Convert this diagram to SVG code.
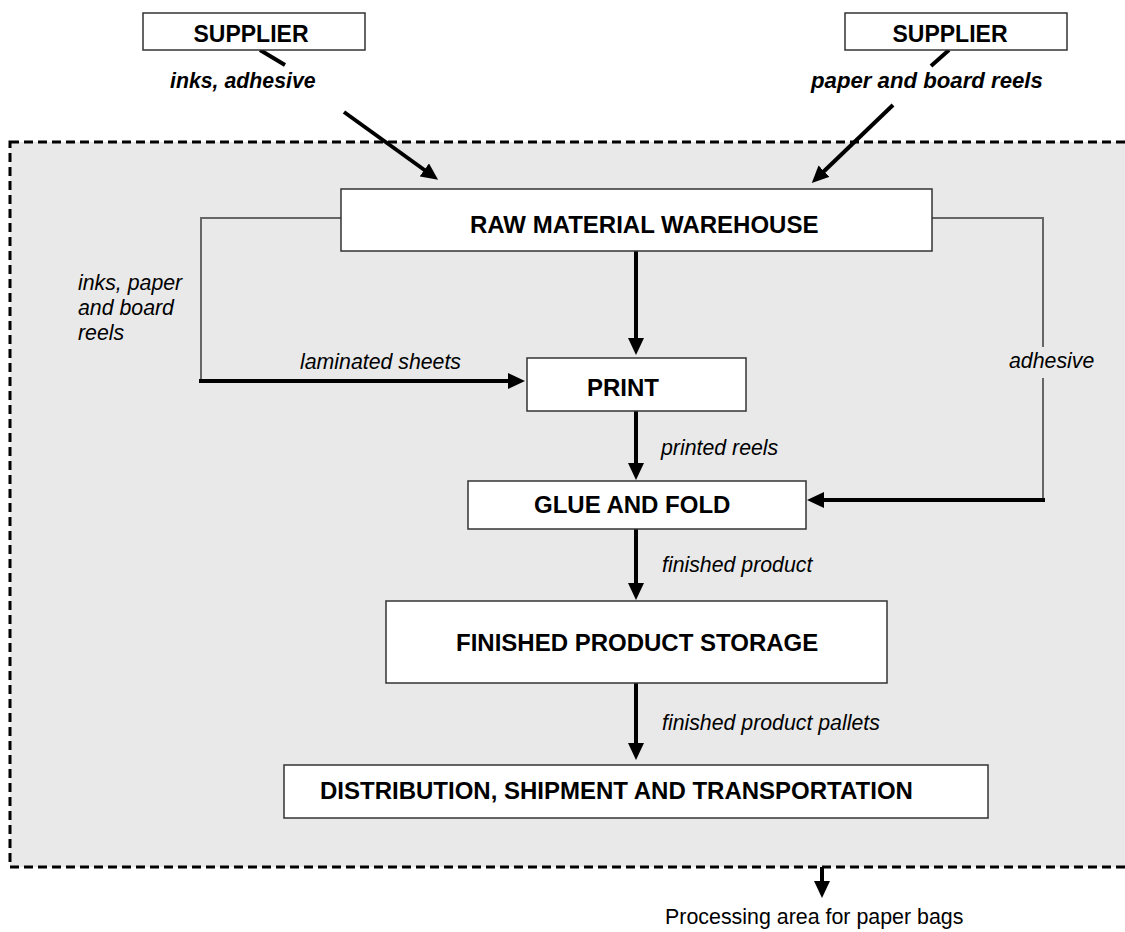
<svg xmlns="http://www.w3.org/2000/svg" width="1125" height="932" viewBox="0 0 1125 932">
  <style>
    .box { fill: #ffffff; stroke: #333333; stroke-width: 1.5; }
    .node-label { font-family: "Liberation Sans", Arial, sans-serif; font-weight: bold; font-size: 24px; fill: #000; }
    .supplier-label { font-family: "Liberation Sans", Arial, sans-serif; font-weight: bold; font-size: 23px; fill: #000; }
    .supply-label { font-family: "Liberation Sans", Arial, sans-serif; font-weight: bold; font-style: italic; font-size: 21.3px; fill: #000; }
    .flow-label { font-family: "Liberation Sans", Arial, sans-serif; font-style: italic; font-size: 21.3px; fill: #000; }
    .area-label { font-family: "Liberation Sans", Arial, sans-serif; font-size: 21.4px; fill: #000; }
    .flow { fill: none; stroke: #000; stroke-width: 4; }
    .flow-arrow { fill: none; stroke: #000; stroke-width: 4; marker-end: url(#head); }
    .branch { fill: none; stroke: #666666; stroke-width: 2; }
  </style>
  <defs>
    <marker id="head" markerUnits="userSpaceOnUse" markerWidth="17" markerHeight="16" refX="7" refY="8" orient="auto">
      <path d="M0,0 L17,8 L0,16 Z" fill="#000"/>
    </marker>
  </defs>

  <rect width="1125" height="932" fill="#ffffff"/>

  <!-- processing area boundary (open to the right edge) -->
  <g id="processing-area">
    <rect x="10" y="142" width="1140" height="725" fill="#e9e9e9" stroke="#000" stroke-width="3" stroke-dasharray="9 5"/>
    <text class="area-label" x="665" y="924">Processing area for paper bags</text>
  </g>

  <g id="connectors">
    <!-- supplier of inks and adhesive -->
    <line class="flow" x1="260" y1="50" x2="285" y2="65"/>
    <line class="flow-arrow" x1="344" y1="112" x2="430" y2="174"/>
    <!-- supplier of paper and board reels -->
    <line class="flow" x1="949" y1="50" x2="931" y2="66"/>
    <line class="flow-arrow" x1="893" y1="105" x2="819" y2="176"/>
    <!-- warehouse to print -->
    <line class="flow-arrow" x1="636" y1="251" x2="636" y2="345"/>
    <!-- left branch: inks, paper and board reels -->
    <path class="branch" d="M341,218 H201 V381"/>
    <line class="flow-arrow" x1="199" y1="381" x2="515" y2="381"/>
    <!-- print to glue and fold -->
    <line class="flow-arrow" x1="636" y1="411" x2="636" y2="470"/>
    <!-- right branch: adhesive -->
    <path class="branch" d="M932,218 H1043 V347 M1043,378 V500"/>
    <line class="flow-arrow" x1="1045" y1="500" x2="817" y2="500"/>
    <!-- glue and fold to storage -->
    <line class="flow-arrow" x1="636" y1="529" x2="636" y2="590"/>
    <!-- storage to distribution -->
    <line class="flow-arrow" x1="636" y1="680" x2="636" y2="750"/>
    <!-- out of the processing area -->
    <line class="flow-arrow" x1="822" y1="867" x2="822" y2="888"/>

    <text class="flow-label" x="78" y="290">inks, paper</text>
    <text class="flow-label" x="78" y="315">and board</text>
    <text class="flow-label" x="78" y="340">reels</text>
    <text class="flow-label" x="300" y="369">laminated sheets</text>
    <text class="flow-label" x="1009" y="368">adhesive</text>
    <text class="flow-label" x="661" y="455">printed reels</text>
    <text class="flow-label" x="662" y="572">finished product</text>
    <text class="flow-label" x="662" y="730">finished product pallets</text>
  </g>

  <g id="supplier-inks">
    <rect class="box" x="143" y="13" width="222" height="37"/>
    <text class="supplier-label" x="251" y="42" text-anchor="middle">SUPPLIER</text>
    <text class="supply-label" x="170" y="88">inks, adhesive</text>
  </g>

  <g id="supplier-paper">
    <rect class="box" x="845" y="13" width="222" height="37"/>
    <text class="supplier-label" x="950" y="42" text-anchor="middle">SUPPLIER</text>
    <text class="supply-label" x="811" y="88" style="font-size:22.2px">paper and board reels</text>
  </g>

  <g id="raw-material-warehouse">
    <rect class="box" x="341" y="189" width="591" height="62"/>
    <text class="node-label" x="470" y="233">RAW MATERIAL WAREHOUSE</text>
  </g>

  <g id="print">
    <rect class="box" x="527" y="358" width="219" height="53"/>
    <text class="node-label" x="587" y="396">PRINT</text>
  </g>

  <g id="glue-and-fold">
    <rect class="box" x="468" y="481" width="338" height="48"/>
    <text class="node-label" x="534" y="513">GLUE AND FOLD</text>
  </g>

  <g id="finished-product-storage">
    <rect class="box" x="386" y="601" width="501" height="82"/>
    <text class="node-label" x="456" y="651">FINISHED PRODUCT STORAGE</text>
  </g>

  <g id="distribution">
    <rect class="box" x="284" y="765" width="704" height="53"/>
    <text class="node-label" x="320" y="799">DISTRIBUTION, SHIPMENT AND TRANSPORTATION</text>
  </g>
</svg>
